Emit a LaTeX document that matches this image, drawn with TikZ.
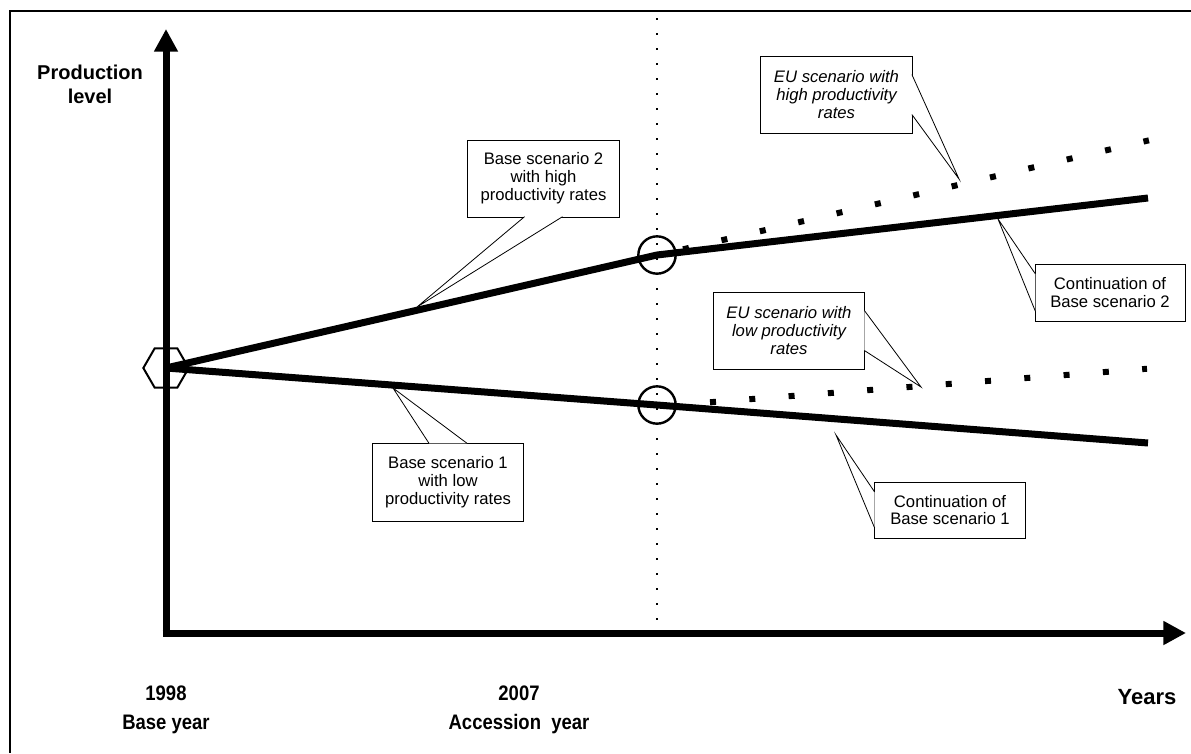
\documentclass[tikz,border=0pt]{standalone}
\usepackage{fontspec}
\setmainfont{Liberation Sans}
\newfontfamily\narrowfont[FakeStretch=0.88]{Liberation Sans}
\usetikzlibrary{arrows.meta,shapes.geometric}
\begin{document}
\begin{tikzpicture}[x=0.75pt,y=-0.75pt,
  axis/.style={line width=5.25pt,-{Triangle[length=17pt,width=17pt]}},
  scenario/.style={line width=5.25pt,line join=round},
  squaredots/.style={line width=4.5pt,dash pattern=on 4.5pt off 25.05pt,shorten <=-2.25pt,shorten >=-2.25pt},
  tinydots/.style={line width=1.5pt,dash pattern=on 1.5pt off 9.75pt},
  marker/.style={circle,draw,line width=1.8pt,minimum size=28pt,inner sep=0pt},
  hexmark/.style={regular polygon,regular polygon sides=6,draw,line width=1.5pt,minimum size=34pt,inner sep=0pt},
  callbox/.style={rectangle,draw,fill=white,line width=0.75pt,align=center,inner sep=0pt,minimum width=113.5pt,font=\fontsize{12.5}{13.4}\selectfont},
  eubox/.style={callbox,font=\itshape\fontsize{12.5}{13.4}\selectfont},
  wedge/.style={draw,fill=white,line width=0.6pt},
  axislabel/.style={font=\bfseries\fontsize{15}{18}\selectfont,align=center},
  yearlabel/.style={font=\narrowfont\bfseries\fontsize{15.75}{21.75}\selectfont,align=center}]
\useasboundingbox (0,0) rectangle (1191,753);
\draw[line width=1.5pt] (1191,11) -- (10,11) -- (10,753);

\coordinate (ystart) at (166,636.5);
\coordinate (ytip) at (166,29);
\coordinate (xstart) at (162.5,633);
\coordinate (xtip) at (1186,633);
\draw[axis] (ystart) -- (ytip);
\draw[axis] (xstart) -- (xtip);

\coordinate (acctop) at (657,18);
\coordinate (accbot) at (657,628);
\draw[tinydots] (acctop) -- (accbot);

\coordinate (end2) at (1148,198);
\coordinate (end1) at (1148,443);
\node[hexmark] (base) at (166,368) {};
\node[marker] (acc2) at (657,255) {};
\node[marker] (acc1) at (657,405) {};
\draw[scenario] (base.center) -- (acc2.center) -- (end2);
\draw[scenario] (base.center) -- (acc1.center) -- (end1);

\coordinate (eu2start) at (686,248.6);
\coordinate (eu2end) at (1146,141);
\coordinate (eu1start) at (713,402);
\coordinate (eu1end) at (1144,369);
\draw[squaredots] (eu2start) -- (eu2end);
\draw[squaredots] (eu1start) -- (eu1end);

\coordinate (b2tip) at (417,307);
\coordinate (eu2tip) at (959,179);
\coordinate (c2tip) at (998,219);
\coordinate (eu1tip) at (921,387);
\coordinate (b1tip) at (393,388);
\coordinate (c1tip) at (836,435);

\node[callbox,minimum height=57.75pt] (base2box) at (543.5,178.5) {Base scenario 2\\with high\\productivity rates};
\draw[wedge] ([xshift=-14.25pt,yshift=0.6pt]base2box.south) -- (b2tip) -- ([xshift=14.25pt,yshift=0.6pt]base2box.south);

\node[eubox,minimum height=57.75pt] (eu2box) at (836.5,94.5) {EU scenario with\\high productivity\\rates};
\draw[wedge] ([yshift=15pt,xshift=-0.6pt]eu2box.east) -- (eu2tip) -- ([yshift=-15pt,xshift=-0.6pt]eu2box.east);

\node[callbox,minimum width=112.5pt,minimum height=42.75pt] (cont2box) at (1110,292.5) {Continuation of\\Base scenario 2};
\draw[wedge] ([yshift=14pt,xshift=0.6pt]cont2box.west) -- (c2tip) -- ([yshift=-14pt,xshift=0.6pt]cont2box.west);

\node[eubox,minimum height=57.75pt] (eu1box) at (789,330.5) {EU scenario with\\low productivity\\rates};
\draw[wedge] ([yshift=15pt,xshift=-0.6pt]eu1box.east) -- (eu1tip) -- ([yshift=-15pt,xshift=-0.6pt]eu1box.east);

\node[callbox,minimum height=58.5pt] (base1box) at (448,482) {Base scenario 1\\with low\\productivity rates};
\draw[wedge] ([xshift=-14.25pt,yshift=-0.6pt]base1box.north) -- (b1tip) -- ([xshift=14.25pt,yshift=-0.6pt]base1box.north);

\node[callbox,minimum height=42pt] (cont1box) at (950,510) {Continuation of\\Base scenario 1};
\draw[wedge] ([yshift=13.5pt,xshift=0.6pt]cont1box.west) -- (c1tip) -- ([yshift=-13.5pt,xshift=0.6pt]cont1box.west);

\node[axislabel] (prodlabel) at (90,84) {Production\\level};
\node[yearlabel] (baseyear) at (166,710) {1998\\Base year};
\node[yearlabel] (accyear) at (519,710) {2007\\Accession\ \ year};
\node[axislabel,font=\bfseries\fontsize{16.5}{18}\selectfont] (yearslabel) at (1147,697) {Years};
\end{tikzpicture}
\end{document}
